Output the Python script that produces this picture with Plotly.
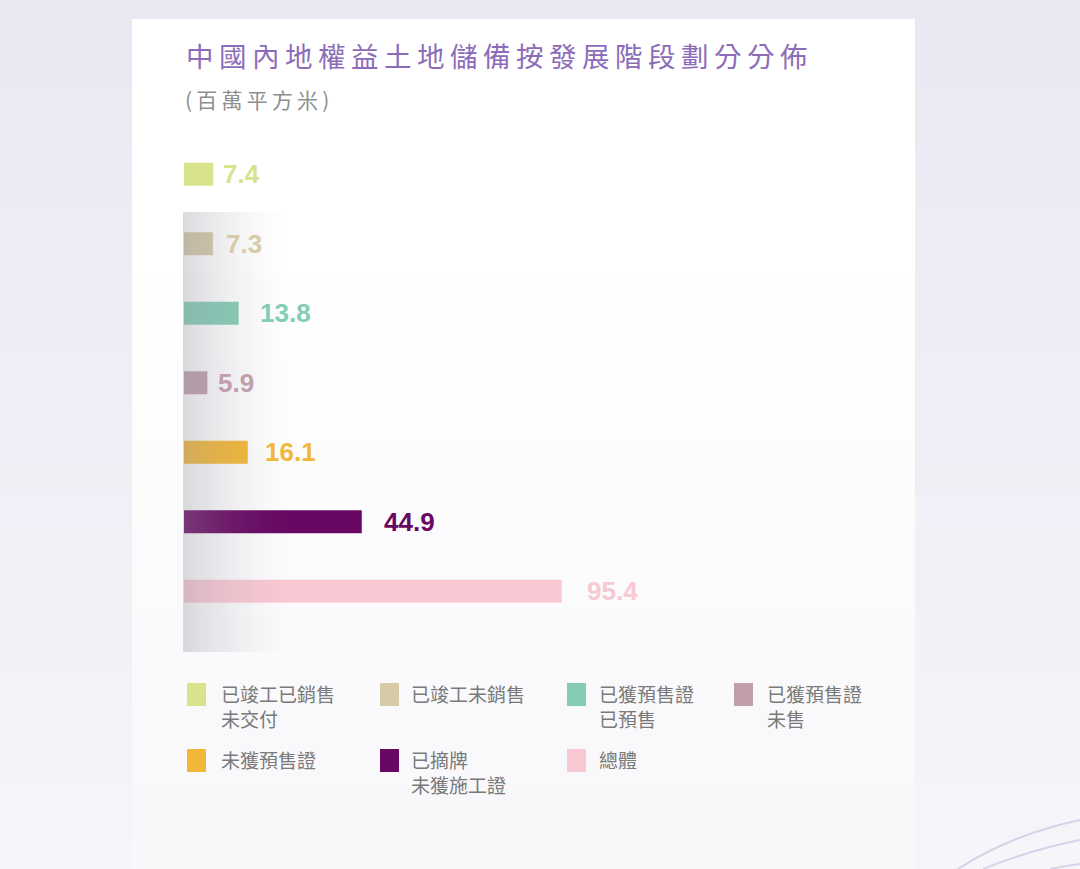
import plotly.graph_objects as go

# ---------------- data ----------------
categories = [
    "已竣工已銷售\n未交付",
    "已竣工未銷售",
    "已獲預售證\n已預售",
    "已獲預售證\n未售",
    "未獲預售證",
    "已摘牌\n未獲施工證",
    "總體",
]
values = [7.4, 7.3, 13.8, 5.9, 16.1, 44.9, 95.4]
value_labels = ["7.4", "7.3", "13.8", "5.9", "16.1", "44.9", "95.4"]
title_text = "中國內地權益土地儲備按發展階段劃分分佈"
subtitle_chars = ["(", "百", "萬", "平", "方", "米", ")"]

# ---------------- styles ----------------
colors = ["#D8E38B", "#D6CAA7", "#84CDB4", "#C19EAC", "#F2B736", "#680862", "#F8C8D3"]
label_gap_px = [8, 11, 19, 9, 15, 20, 23]
W, H = 1080, 869
CJK = "Noto Sans CJK TC"


def px(x):
    return x / W


def py(y):
    return 1 - y / H


fig = go.Figure()
fig.add_trace(go.Bar(
    x=values,
    y=list(range(len(categories))),
    orientation="h",
    marker=dict(color=colors, line=dict(width=0)),
    width=0.331,
    showlegend=False,
    hoverinfo="skip",
))

shapes = []
# page background gradient
n = 30
for i in range(n):
    t = i / (n - 1)
    r = int(235 + (246 - 235) * t)
    g = int(232 + (245 - 232) * t)
    b = int(243 + (250 - 243) * t)
    shapes.append(dict(type="rect", xref="paper", yref="paper",
                       x0=0, x1=1, y0=max(0, py(H * (i + 1) / n + 1)), y1=py(H * i / n),
                       fillcolor=f"rgb({r},{g},{b})", line=dict(width=0), layer="below"))
# card with subtle vertical gradient
top, bot = 19, H
n = 40
for i in range(n):
    y0 = top + (bot - top) * i / n
    y1 = top + (bot - top) * (i + 1) / n + 1
    t = max(0.0, (i / (n - 1) - 0.3) / 0.7)
    r = int(255 - 7 * t)
    g = int(255 - 7 * t)
    b = int(255 - 4 * t)
    shapes.append(dict(type="rect", xref="paper", yref="paper",
                       x0=px(132), x1=px(915), y0=py(min(y1, H)), y1=py(y0),
                       fillcolor=f"rgb({r},{g},{b})", line=dict(width=0), layer="below"))
# grey shading at the left of the bar area (drawn above bars)
x_start, x_end = 183, 295
step = 2
k = int((x_end - x_start) / step)
for i in range(k):
    t = i / k
    op = 0.34 * (1 - t) ** 1.7
    shapes.append(dict(type="rect", xref="paper", yref="paper",
                       x0=px(x_start + i * step), x1=px(x_start + (i + 1) * step),
                       y0=py(652), y1=py(212),
                       fillcolor="rgb(150,150,162)", opacity=op,
                       line=dict(width=0), layer="above"))
# decorative arcs bottom right
for (sx, cx, cy, ex, ey) in [(958, 1010, 835, 1080, 820), (983, 1030, 850, 1080, 840), (1050, 1065, 866, 1080, 864)]:
    path = (f"M {px(sx)},{py(H)} Q {px(cx)},{py(cy)} {px(ex)},{py(ey)}")
    shapes.append(dict(type="path", xref="paper", yref="paper", path=path,
                       line=dict(color="#D9D0EA", width=2), layer="below"))

annotations = []
# value labels
for i, (v, lab) in enumerate(zip(values, value_labels)):
    annotations.append(dict(x=v, y=i, xref="x", yref="y", text=f"<b>{lab}</b>",
                            showarrow=False, xanchor="left", yanchor="middle",
                            xshift=label_gap_px[i],
                            font=dict(family="Liberation Sans, Arial", size=26, color=colors[i])))
# title & subtitle
annotations.append(dict(x=px(184), y=py(55), xref="paper", yref="paper",
                        text="\u2009".join(title_text), showarrow=False,
                        xanchor="left", yanchor="middle",
                        font=dict(family=CJK, size=27.5, color="#8C6CB8")))
annotations.append(dict(x=px(183), y=py(99), xref="paper", yref="paper",
                        text="\u2009".join(subtitle_chars), showarrow=False,
                        xanchor="left", yanchor="middle",
                        font=dict(family=CJK, size=21, color="#8E8E8E")))
# custom legend
col_sw = [187, 380, 567, 734]
col_tx = [219, 409, 597, 765]
row_y = [683, 749]
for i, cat in enumerate(categories):
    r, c = divmod(i, 4)
    y0 = row_y[r]
    shapes.append(dict(type="rect", xref="paper", yref="paper",
                       x0=px(col_sw[c]), x1=px(col_sw[c] + 19),
                       y0=py(y0 + 23), y1=py(y0),
                       fillcolor=colors[i], line=dict(width=0), layer="above"))
    annotations.append(dict(x=px(col_tx[c]), y=py(y0 - 5), xref="paper", yref="paper",
                            text=cat.replace("\n", "<br>"), showarrow=False,
                            xanchor="left", yanchor="top", align="left",
                            font=dict(family=CJK, size=19, color="#7A7A7A")))

fig.update_layout(
    width=W, height=H,
    margin=dict(l=0, r=0, t=0, b=0),
    paper_bgcolor="#EDEAF4",
    plot_bgcolor="rgba(0,0,0,0)",
    shapes=shapes,
    annotations=annotations,
    xaxis=dict(domain=[px(184), px(863)], range=[0, 171.5], visible=False, fixedrange=True),
    yaxis=dict(domain=[1 - 626.05 / H, 1 - 139.45 / H], range=[6.5, -0.5],
               visible=False, fixedrange=True),
    showlegend=False,
)

fig.write_html("out.html", config={"displayModeBar": False},
               post_script="document.body.style.margin='0';document.body.style.overflow='hidden';")
